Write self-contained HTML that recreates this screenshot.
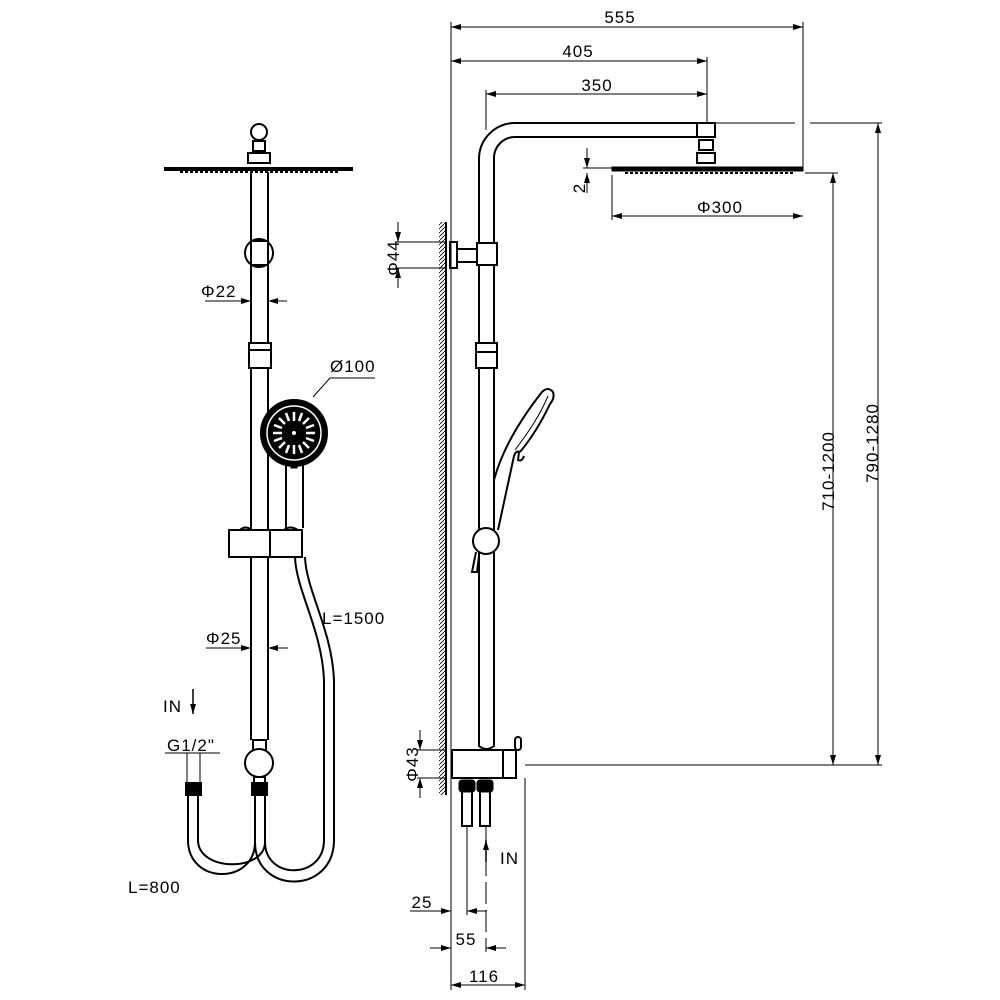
<!DOCTYPE html>
<html><head><meta charset="utf-8"><style>
html,body{margin:0;padding:0;background:#fff}
svg{display:block}
text{font-family:"Liberation Sans",sans-serif;font-size:17px;fill:#000;letter-spacing:1px}
</style></head><body>
<svg width="1000" height="1000" viewBox="0 0 1000 1000" xmlns="http://www.w3.org/2000/svg">
<defs>
<marker id="a" viewBox="0 0 10 6" refX="10" refY="3" markerWidth="10" markerHeight="6" orient="auto-start-reverse" markerUnits="userSpaceOnUse"><path d="M0,0 L10,3 L0,6 z" fill="#000"/></marker>
<pattern id="h" width="4" height="4" patternUnits="userSpaceOnUse"><path d="M0,4 L4,0" stroke="#000" stroke-width="0.8"/></pattern>
</defs>
<g fill="none" stroke="#000" stroke-width="1">
<g stroke-width="2">
<circle cx="259" cy="132" r="8"/>
<rect x="253" y="141" width="12" height="10"/>
<rect x="248" y="153" width="22" height="10"/>
<line x1="251" y1="172" x2="251" y2="740"/>
<line x1="268" y1="172" x2="268" y2="740"/>
<circle cx="259" cy="253" r="14" fill="#fff"/>
<rect x="251" y="241" width="17" height="24" fill="#fff"/>
<rect x="249" y="343" width="22" height="25" fill="#fff"/>
<line x1="249" y1="350" x2="271" y2="350"/>
<path d="M286,462 L286,528 M303,462 L303,528"/>
<circle cx="294" cy="433" r="33" fill="#000"/>
</g>
<path d="M165,168 L352,168 L352,170 L165,170 z" fill="#000" stroke-width="2"/>
<path d="M180,172 L340,172" stroke-width="2" stroke-dasharray="3,2"/>
<circle cx="294" cy="433" r="27" stroke="#fff" stroke-width="1.5"/>
<g stroke="#fff" stroke-width="2.5">
<path d="M294,412 L294,421 M294,445 L294,454 M273,433 L282,433 M306,433 L315,433 M279,418 L285,424 M303,442 L309,448 M309,418 L303,424 M285,442 L279,448 M286,413 L289,421 M302,413 L299,421 M286,453 L289,445 M302,453 L299,445 M274,425 L282,428 M314,425 L306,428 M274,441 L282,438 M314,441 L306,438"/>
</g>
<circle cx="294" cy="433" r="2" fill="#fff" stroke="none"/>
<rect x="291" y="462" width="6" height="6" fill="#000"/>
<g stroke-width="2">
<rect x="229" y="530" width="73" height="27" fill="#fff"/>
<line x1="270" y1="530" x2="270" y2="557"/>
<path d="M240,530 q5,-5 12,0 M284,530 q6,-5 14,0"/>
</g>
<g stroke-width="2">
<path d="M295,557 C296,590 322,630 324,680 L324,840 C324,880 265,880 265,842"/>
<path d="M305,557 C306,590 332,630 334,680 L334,840 C334,895 255,895 255,842"/>
<path d="M188,795 L188,840 C188,885 255,885 255,842 L255,795"/>
<path d="M198,795 L198,840 C198,872 265,872 265,842 L265,795"/>
<rect x="186" y="783" width="15" height="12" fill="#000"/>
<rect x="252" y="783" width="15" height="12" fill="#000"/>
<rect x="253" y="740" width="13" height="10" fill="#fff"/>
<circle cx="259" cy="763" r="14" fill="#fff"/>
<rect x="254" y="777" width="11" height="6"/>
</g>
<path d="M187,753 L187,783 M200,753 L200,783"/>
<path d="M205,301 L245,301" />
<line x1="240" y1="301" x2="251" y2="301" marker-end="url(#a)"/>
<line x1="287" y1="301" x2="268" y2="301" marker-end="url(#a)"/>
<path d="M206,648 L245,648"/>
<line x1="240" y1="648" x2="251" y2="648" marker-end="url(#a)"/>
<line x1="288" y1="648" x2="268" y2="648" marker-end="url(#a)"/>
<path d="M313,397 L330,378 L375,378"/>
<line x1="193" y1="689" x2="193" y2="714" stroke-width="1.5" marker-end="url(#a)"/>
<line x1="165" y1="753" x2="220" y2="753"/>
<rect x="439" y="222" width="7" height="573" fill="url(#h)" stroke="none"/>
<line x1="446" y1="222" x2="446" y2="795" stroke-width="2"/>
<g stroke-width="2">
<path d="M479,740 L479,159 A36,36 0 0 1 515,123 L697,123"/>
<path d="M494,740 L494,159 A21,21 0 0 1 515,137 L697,137"/>
<rect x="697" y="123" width="18" height="14" fill="#fff"/>
<rect x="699" y="140" width="14" height="10"/>
<rect x="697" y="153" width="18" height="10"/>
<rect x="450" y="242" width="7" height="26"/>
<rect x="457" y="249" width="21" height="13"/>
<rect x="477" y="243" width="20" height="22" fill="#fff"/>
<rect x="476" y="343" width="21" height="25" fill="#fff"/>
<line x1="476" y1="352" x2="497" y2="352"/>
<path d="M494,480 C502,450 520,420 542,392 Q548,386 553,392 Q555,398 550,404 C540,425 530,440 520,452"/>
<path d="M548,396 C540,415 530,430 515,450" stroke-width="1"/>
<path d="M520,452 Q516,450 514,456 L498,530"/>
<path d="M519,452 L518,460 Q522,462 524,456"/>
<circle cx="486" cy="541" r="13" fill="#fff"/>
<path d="M476,552 L472,572 L477,572 L479,556"/>
<rect x="452" y="750" width="64" height="28" fill="#fff"/>
<line x1="503" y1="750" x2="503" y2="778"/>
<rect x="515" y="737" width="6" height="13" rx="3"/>
<path d="M479,740 L479,746 Q486,752 494,746 L494,740"/>
<rect x="462" y="790" width="10" height="36"/>
<rect x="480" y="790" width="10" height="36"/>
</g>
<rect x="459" y="780" width="16" height="12" fill="#000" rx="3"/>
<rect x="477" y="780" width="16" height="12" fill="#000" rx="3"/>
<path d="M612,167 L803,167 L803,171 L612,171 z" fill="#000" stroke-width="1"/>
<path d="M625,173 L795,173" stroke-width="2" stroke-dasharray="3,2"/>
<line x1="451" y1="22" x2="451" y2="990"/>
<line x1="803" y1="22" x2="803" y2="167"/>
<line x1="707" y1="57" x2="707" y2="123"/>
<line x1="486" y1="90" x2="486" y2="130"/>
<line x1="451" y1="27" x2="803" y2="27" marker-start="url(#a)" marker-end="url(#a)"/>
<line x1="451" y1="61" x2="707" y2="61" marker-start="url(#a)" marker-end="url(#a)"/>
<line x1="486" y1="94" x2="707" y2="94" marker-start="url(#a)" marker-end="url(#a)"/>
<line x1="583" y1="168" x2="612" y2="168"/>
<line x1="587" y1="148" x2="587" y2="168" marker-end="url(#a)"/>
<line x1="587" y1="193" x2="587" y2="173" marker-end="url(#a)"/>
<line x1="612" y1="175" x2="612" y2="220"/>
<line x1="612" y1="216" x2="803" y2="216" marker-start="url(#a)" marker-end="url(#a)"/>
<line x1="715" y1="123" x2="795" y2="123"/>
<line x1="810" y1="123" x2="882" y2="123"/>
<line x1="805" y1="173" x2="838" y2="173"/>
<line x1="525" y1="765" x2="882" y2="765"/>
<line x1="833" y1="173" x2="833" y2="765" marker-start="url(#a)" marker-end="url(#a)"/>
<line x1="878" y1="123" x2="878" y2="765" marker-start="url(#a)" marker-end="url(#a)"/>
<line x1="395" y1="242" x2="445" y2="242"/>
<line x1="395" y1="268" x2="445" y2="268"/>
<line x1="398" y1="222" x2="398" y2="242" marker-end="url(#a)"/>
<line x1="398" y1="288" x2="398" y2="268" marker-end="url(#a)"/>
<line x1="417" y1="750" x2="445" y2="750"/>
<line x1="417" y1="778" x2="445" y2="778"/>
<line x1="420" y1="730" x2="420" y2="750" marker-end="url(#a)"/>
<line x1="420" y1="798" x2="420" y2="778" marker-end="url(#a)"/>
<line x1="467" y1="826" x2="467" y2="915"/>
<line x1="486" y1="826" x2="486" y2="952" stroke-dasharray="22,6"/>
<line x1="525" y1="778" x2="525" y2="990"/>
<line x1="486" y1="840" x2="486" y2="862" stroke-width="1.5" marker-start="url(#a)"/>
<line x1="410" y1="911" x2="451" y2="911" marker-end="url(#a)"/>
<line x1="487" y1="911" x2="467" y2="911" marker-end="url(#a)"/>
<line x1="430" y1="948" x2="451" y2="948" marker-end="url(#a)"/>
<line x1="506" y1="948" x2="486" y2="948" marker-end="url(#a)"/>
<line x1="451" y1="985" x2="525" y2="985" marker-start="url(#a)" marker-end="url(#a)"/>
</g>
<text x="201" y="297">Φ22</text>
<text x="330" y="372">Ø100</text>
<text x="206" y="644">Φ25</text>
<text x="322" y="624">L=1500</text>
<text x="163" y="712">IN</text>
<text x="167" y="751">G1/2"</text>
<text x="128" y="893">L=800</text>
<g text-anchor="middle">
<text x="620" y="23">555</text>
<text x="578" y="57">405</text>
<text x="597" y="91">350</text>
<text x="720" y="213">Φ300</text>
<text transform="translate(585,188) rotate(-90)">2</text>
<text transform="translate(399,258) rotate(-90)">Φ44</text>
<text transform="translate(418,764) rotate(-90)">Φ43</text>
<text transform="translate(834,471) rotate(-90)">710-1200</text>
<text transform="translate(878,443) rotate(-90)">790-1280</text>
<text x="422" y="908">25</text>
<text x="466" y="945">55</text>
<text x="484" y="982">116</text>
</g>
<text x="500" y="864">IN</text>
</svg>
</body></html>
